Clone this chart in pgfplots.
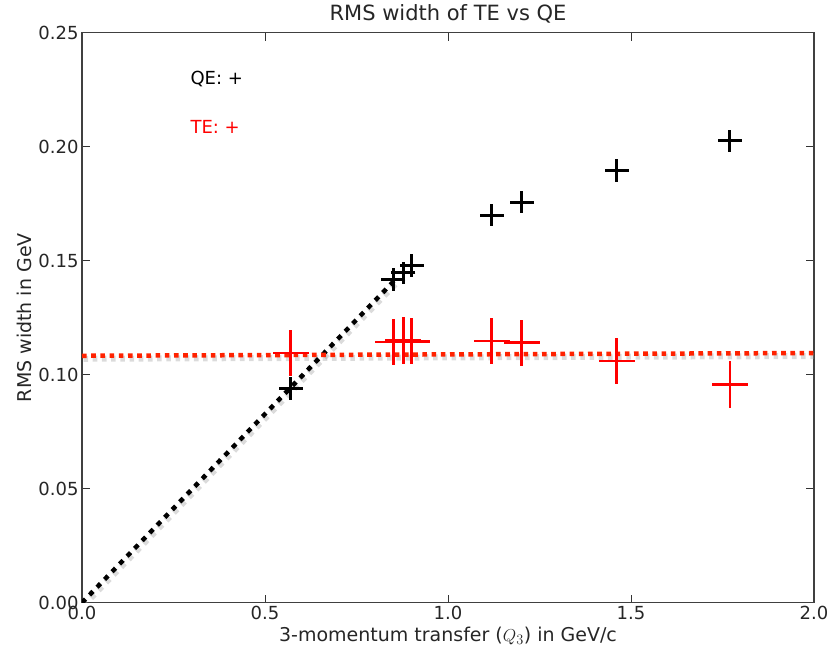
\documentclass[border=0pt]{standalone}
\usepackage{fontspec}
\setmainfont{DejaVu Sans}
\usepackage{pgfplots}
\pgfplotsset{compat=1.18}
\definecolor{linered}{RGB}{255,34,0}
\pgfplotstableread{
x y ey
0.570 0.0939 0.0049
0.8505 0.1418 0.0049
0.878 0.1447 0.0049
0.901 0.1479 0.0049
1.119 0.1699 0.0049
1.201 0.1757 0.0049
1.461 0.1896 0.0049
1.770 0.2026 0.0049
}\qedata
\pgfplotstableread{
x y ey
0.570 0.1096 0.0101
0.8505 0.1143 0.0101
0.878 0.1150 0.0101
0.901 0.1146 0.0101
1.119 0.1147 0.0101
1.201 0.1140 0.0101
1.461 0.1060 0.0101
1.770 0.0957 0.0101
}\tedata
\begin{document}
\begin{tikzpicture}[x=1pt,y=1pt]
\useasboundingbox (-82,-55.3) rectangle (747,602.7);
\begin{axis}[at={(0,0)}, anchor=south west, scale only axis,
  width=732pt, height=570pt,
  xmin=0, xmax=2, ymin=0, ymax=0.25,
  xtick={0,0.5,1,1.5,2}, ytick={0,0.05,0.1,0.15,0.2,0.25},
  tick align=inside, major tick length=8pt,
  tick style={black!80, line width=1pt},
  axis line style={black!75, line width=1.3pt},
  /pgf/number format/assume math mode=true,
  xticklabel style={/pgf/number format/.cd, fixed, fixed zerofill, precision=1},
  yticklabel style={/pgf/number format/.cd, fixed, fixed zerofill, precision=2},
  tick label style={font=\fontsize{18}{20}\selectfont, text=black!85},
  label style={font=\fontsize{19}{22}\selectfont, text=black!85},
  title style={font=\fontsize{21}{24}\selectfont, text=black!85},
  xlabel={3-momentum transfer ($Q_3$) in GeV/c},
  ylabel={RMS width in GeV},
  title={RMS width of TE vs QE},
]
% shadows
\addplot[black!40, opacity=0.35, line width=6pt, dash pattern=on 5pt off 5.8pt, xshift=1.5pt, yshift=-3pt] coordinates {(0,0) (0.855,0.1415)};
\addplot[black!40, opacity=0.35, line width=6pt, dash pattern=on 4.6pt off 4.6pt, xshift=1.5pt, yshift=-3pt] coordinates {(0,0.1083) (2,0.1095)};
% dotted fit lines
\addplot[black, line width=4.5pt, dash pattern=on 5pt off 5.8pt] coordinates {(0,0) (0.855,0.1415)};
\addplot[linered, line width=4.5pt, dash pattern=on 4.6pt off 4.6pt] coordinates {(0,0.1083) (2,0.1095)};
% QE crosses
\addplot[only marks, black, mark=-, mark size=12pt, mark options={line width=3pt, black},
  error bars/.cd, y dir=both, y explicit,
  error mark=none, error bar style={line width=3pt, black}]
  table[x=x, y=y, y error=ey]{\qedata};
% TE crosses
\addplot[only marks, red, mark=-, mark size=18pt, mark options={line width=2.6pt, red},
  error bars/.cd, y dir=both, y explicit,
  error mark=none, error bar style={line width=2.6pt, red}]
  table[x=x, y=y, y error=ey]{\tedata};
\node[anchor=west, font=\fontsize{18}{20}\selectfont, text=black] at (axis cs:0.287,0.2295) {QE: +};
\node[anchor=west, font=\fontsize{18}{20}\selectfont, text=red] at (axis cs:0.287,0.2085) {TE: +};
\end{axis}
\end{tikzpicture}
\end{document}
